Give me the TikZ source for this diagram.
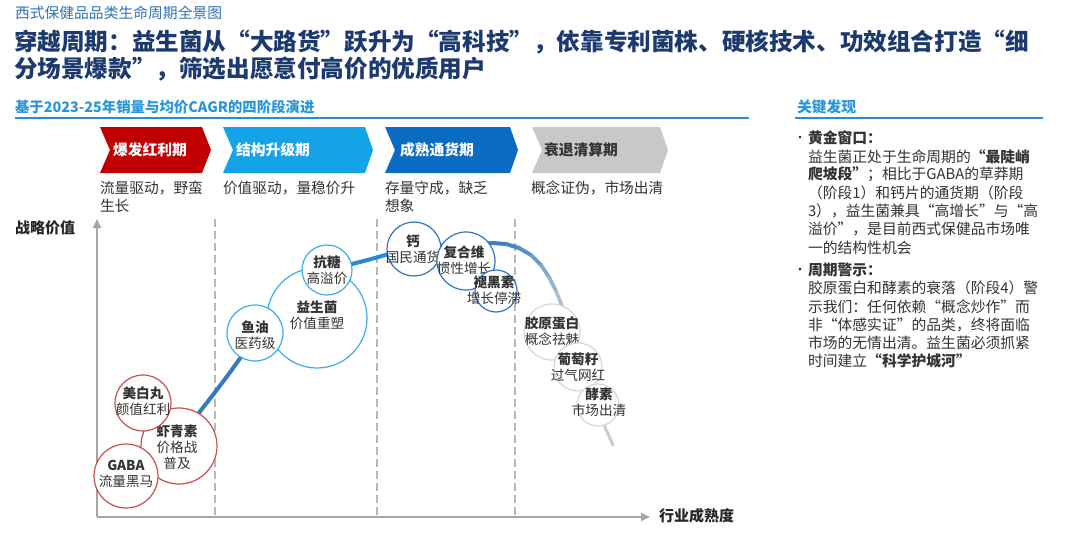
\documentclass[tikz,border=0pt]{standalone}
\usepackage{fontspec}
\setmainfont{Noto Sans CJK SC}
\usetikzlibrary{arrows.meta}
\definecolor{navy}{HTML}{1C3A6E}
\definecolor{subblue}{HTML}{2E74B5}
\definecolor{hdrblue}{HTML}{2A96DA}
\definecolor{lineblue}{HTML}{2E8BD0}
\definecolor{chred}{HTML}{C00000}
\definecolor{chcyan}{HTML}{14A3E6}
\definecolor{chblue}{HTML}{0A6BC2}
\definecolor{chgray}{HTML}{C8C8C8}
\definecolor{txt}{HTML}{333333}
\definecolor{axisgray}{HTML}{A6A6A6}
\definecolor{dashgray}{HTML}{B8B8B8}
\definecolor{cred}{HTML}{C9504F}
\definecolor{ccyan}{HTML}{3BAEE5}
\definecolor{cblue}{HTML}{3474BF}
\definecolor{cgray}{HTML}{D6D6D6}
\definecolor{curveA}{HTML}{3679BD}
\definecolor{curveB}{HTML}{2B88D3}
\definecolor{curveC}{HTML}{3A80C4}
\definecolor{curveG}{HTML}{C6CDD4}
\newcommand\setfs[2]{\fontsize{#1}{#2}\selectfont}
\begin{document}
\begin{tikzpicture}[x=0.5pt,y=-0.5pt,
  lbl/.style={anchor=west,inner sep=0pt,outer sep=0pt},
  desc/.style={lbl,font=\setfs{7.35}{9},text=txt},
  chevtext/.style={lbl,font=\setfs{7.4}{9}\bfseries,text=white},
  panel/.style={lbl,font=\setfs{7.4}{9},text=txt},
  bullet/.style={anchor=center,inner sep=0pt,outer sep=0pt,font=\setfs{6.5}{8},text=navy},
  bubble/.style={circle,draw,fill=white,line width=0.6pt,inner sep=0pt,outer sep=0pt},
  ctext/.style={align=center,inner sep=0pt,font=\setfs{6.8}{8},text=txt},
  sep/.style={dashgray,line width=0.6pt,dash pattern=on 4pt off 2pt},
  curve/.style={line width=2pt,line cap=round,line join=round},
  ax/.style={axisgray,line width=0.8pt,-{Triangle[length=4.5pt,width=4pt]}}
]
\useasboundingbox (0,0) rectangle (1080,557);
\fill[white] (0,0) rectangle (1080,557);

% Header
\node[lbl,font=\setfs{7.4}{9},text=subblue] (subtitle) at (15,13) {西式保健品品类生命周期全景图};
\node[lbl,font=\setfs{11.8}{14}\bfseries,text=navy] (title1) at (14,42) {穿越周期：益生菌从“大路货”跃升为“高科技”，依靠专利菌株、硬核技术、功效组合打造“细};
\node[lbl,font=\setfs{11.8}{14}\bfseries,text=navy] (title2) at (14,69) {分场景爆款”，筛选出愿意付高价的优质用户};

% Section headers
\node[lbl,font=\setfs{7.2}{9}\bfseries,text=hdrblue] (sec1) at (15,107) {基于2023-25年销量与均价CAGR的四阶段演进};
\draw[lineblue,line width=0.8pt] (15,118) -- (749,118);
\node[lbl,font=\setfs{7.4}{9}\bfseries,text=hdrblue] (sec2) at (797,107) {关键发现};
\draw[lineblue,line width=0.8pt] (795,118) -- (1043,118);

% Chevrons
\fill[chred]  (100,127) -- (202,127) -- (211,150) -- (202,173) -- (100,173) -- (110,150) -- cycle;
\fill[chcyan] (223,127) -- (365,127) -- (373,150) -- (365,173) -- (223,173) -- (233,150) -- cycle;
\fill[chblue] (385,127) -- (510,127) -- (518,150) -- (510,173) -- (385,173) -- (395,150) -- cycle;
\fill[chgray] (532,127) -- (660,127) -- (668,150) -- (660,173) -- (532,173) -- (542,150) -- cycle;
\node[chevtext] (ch1) at (113,150) {爆发红利期};
\node[chevtext] (ch2) at (236,150) {结构升级期};
\node[chevtext] (ch3) at (400,150) {成熟通货期};
\node[chevtext,text=txt] (ch4) at (544,150) {衰退清算期};

% Stage descriptions
\node[desc] (d1a) at (100,188) {流量驱动，野蛮};
\node[desc] (d1b) at (100,206) {生长};
\node[desc] (d2a) at (223,188) {价值驱动，量稳价升};
\node[desc] (d3a) at (385,188) {存量守成，缺乏};
\node[desc] (d3b) at (385,206) {想象};
\node[desc] (d4a) at (531,188) {概念证伪，市场出清};

% Separators
\draw[sep] (215,219) -- (215,517);
\draw[sep] (377,219) -- (377,517);
\draw[sep] (515,219) -- (515,517);

% Axes
\coordinate (origin) at (97,517);
\coordinate (ytop) at (97,219);
\coordinate (xend) at (650,517);
\draw[ax] (origin) -- (ytop);
\draw[ax] (origin) -- (xend);
\node[lbl,font=\setfs{7.5}{9}\bfseries,text=black!85] (ylab) at (15,228) {战略价值};
\node[lbl,font=\setfs{7.5}{9}\bfseries,text=black!85] (xlab) at (659,516) {行业成熟度};

% Curve
\draw[curve,curveA] (176,442) .. controls (205,405) and (232,372) .. (255,336);
\draw[curve,curveB] (255,336) .. controls (278,300) and (298,274) .. (330,268)
  .. controls (360,264) and (388,253) .. (414,248) .. controls (445,245) and (470,243) .. (492,243);
\coordinate (q0) at (492,243);
\coordinate (q1) at (506,244);
\coordinate (q2) at (519,248);
\coordinate (q3) at (531,255);
\coordinate (q4) at (541,265);
\coordinate (q5) at (549,277);
\coordinate (q6) at (556,291);
\coordinate (q7) at (562,306);
\coordinate (q8) at (575,345);
\coordinate (q9) at (590,385);
\coordinate (q10) at (604,425);
\coordinate (q11) at (613,445);
\foreach \a/\b/\p/\w in {q0/q1/100/2, q1/q2/92/2, q2/q3/80/1.95, q3/q4/65/1.9, q4/q5/50/1.85, q5/q6/35/1.8, q6/q7/20/1.75, q7/q8/10/1.7, q8/q9/0/1.65, q9/q10/0/1.6, q10/q11/0/1.5}
  \draw[curve,line width=\w pt,curveC!\p!curveG] (\a) -- (\b);

% Red bubbles
\node[bubble,draw=cred,minimum size=38pt] (xia) at (179,446) {};
\node[ctext] (txia) at (177,447) {\textbf{虾青素}\\价格战\\普及};
\node[bubble,draw=cred,minimum size=32pt] (gaba) at (126,476) {};
\node[ctext] (tgaba) at (126,474) {\textbf{GABA}\\流量黑马};
\node[bubble,draw=cred,minimum size=28pt] (mei) at (143,403) {};
\node[ctext] (tmei) at (143,401) {\textbf{美白丸}\\颜值红利};

% Cyan bubbles
\node[bubble,draw=ccyan,minimum size=50pt] (yi) at (317,318) {};
\node[ctext] (tyi) at (317,315) {\textbf{益生菌}\\价值重塑};
\node[bubble,draw=ccyan,minimum size=28pt] (yu) at (255,333) {};
\node[ctext] (tyu) at (255,335) {\textbf{鱼油}\\医药级};
\node[bubble,draw=ccyan,minimum size=25pt] (kang) at (327,270) {};
\node[ctext] (tkang) at (327,270) {\textbf{抗糖}\\高溢价};

% Blue bubbles
\node[bubble,draw=cblue,minimum size=27pt] (gai) at (414,249) {};
\node[ctext] (tgai) at (413,249) {\textbf{钙}\\国民通货};
\node[bubble,draw=cblue,minimum size=29pt] (fu) at (466,261) {};
\node[ctext] (tfu) at (464,260) {\textbf{复合维}\\惯性增长};
\node[bubble,draw=cblue,minimum size=21pt] (tui) at (496,291) {};
\node[ctext] (ttui) at (494,290) {\textbf{褪黑素}\\增长停滞};

% Gray bubbles
\node[bubble,draw=cgray,minimum size=28pt] (jy) at (552,332) {};
\node[ctext] (tjy) at (552,331) {\textbf{胶原蛋白}\\概念祛魅};
\node[bubble,draw=cgray,minimum size=24pt] (pt) at (578,367) {};
\node[ctext] (tpt) at (578,367) {\textbf{葡萄籽}\\过气网红};
\node[bubble,draw=cgray,minimum size=21pt] (js) at (598,405) {};
\node[ctext] (tjs) at (599,402) {\textbf{酵素}\\市场出清};

% Right panel
\node[bullet] (b1) at (800,139) {•};
\node[panel] (r1) at (808,138) {\textbf{黄金窗口：}};
\node[panel] (r2) at (808,156.3) {益生菌正处于生命周期的\textbf{“最陡峭}};
\node[panel] (r3) at (808,174.6) {\textbf{爬坡段”}；相比于GABA的草莽期};
\node[panel] (r4) at (808,192.9) {（阶段1）和钙片的通货期（阶段};
\node[panel] (r5) at (808,211.2) {3），益生菌兼具“高增长”与“高};
\node[panel] (r6) at (808,229.5) {溢价”，是目前西式保健品市场唯};
\node[panel] (r7) at (808,247.8) {一的结构性机会};
\node[bullet] (b2) at (800,271) {•};
\node[panel] (r8) at (808,270) {\textbf{周期警示：}};
\node[panel] (r9) at (808,288.2) {胶原蛋白和酵素的衰落（阶段4）警};
\node[panel] (r10) at (808,306.4) {示我们：任何依赖“概念炒作”而};
\node[panel] (r11) at (808,324.6) {非“体感实证”的品类，终将面临};
\node[panel] (r12) at (808,342.8) {市场的无情出清。益生菌必须抓紧};
\node[panel] (r13) at (808,361) {时间建立\textbf{“科学护城河”}};
\end{tikzpicture}
\end{document}
